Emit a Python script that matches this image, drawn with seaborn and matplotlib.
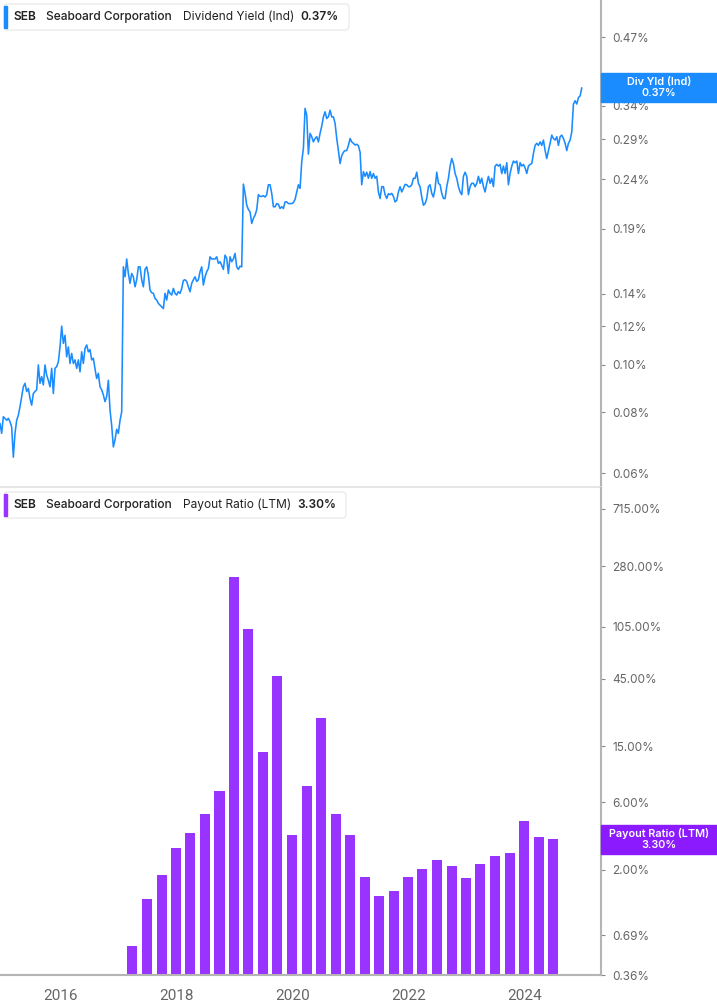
import pandas as pd
import seaborn as sns
import matplotlib.pyplot as plt
from matplotlib.patches import FancyBboxPatch, Rectangle
from matplotlib.ticker import NullLocator


# dividend yield (ind), in % at ~10 day steps
div_yield = [
    0.0759, 0.0724, 0.0783, 0.0777, 0.0770, 0.0777, 0.0765, 0.0746, 0.0647, 0.0724,
    0.0770, 0.0789, 0.0821, 0.0861, 0.0902, 0.0917, 0.0882, 0.0895, 0.0854, 0.0827,
    0.0874, 0.0882, 0.0889, 0.1000, 0.0917, 0.0946, 0.0910, 0.1000, 0.0953, 0.0930,
    0.0902, 0.0984, 0.0874, 0.0984, 0.0992, 0.1015, 0.1089, 0.1201, 0.1107, 0.1150,
    0.1039, 0.1089, 0.1007, 0.1056, 0.1007, 0.1024, 0.0984, 0.1024, 0.0968, 0.1064,
    0.1007, 0.1081, 0.1099, 0.1064, 0.1075, 0.1024, 0.1032, 0.0981, 0.0938, 0.0961,
    0.0902, 0.0889, 0.0868, 0.0841, 0.0861, 0.0930, 0.0808, 0.0751, 0.0679, 0.0702,
    0.0738, 0.0724, 0.0770, 0.0801, 0.1589, 0.1516, 0.1649, 0.1540, 0.1470, 0.1540,
    0.1516, 0.1446, 0.1495, 0.1589, 0.1589, 0.1495, 0.1446, 0.1570, 0.1589, 0.1528,
    0.1424, 0.1406, 0.1402, 0.1369, 0.1358, 0.1337, 0.1326, 0.1316, 0.1305, 0.1402,
    0.1358, 0.1424, 0.1402, 0.1391, 0.1435, 0.1402, 0.1391, 0.1413, 0.1402, 0.1435,
    0.1490, 0.1495, 0.1483, 0.1446, 0.1413, 0.1470, 0.1495, 0.1516, 0.1483, 0.1495,
    0.1553, 0.1589, 0.1458, 0.1516, 0.1553, 0.1576, 0.1666, 0.1649, 0.1649, 0.1649,
    0.1666, 0.1615, 0.1628, 0.1600, 0.1570, 0.1679, 0.1654, 0.1540, 0.1666, 0.1628,
    0.1649, 0.1693, 0.1589, 0.1570, 0.1594, 0.1589, 0.2348, 0.2248, 0.2126, 0.2083,
    0.2059, 0.1950, 0.1997, 0.2029, 0.2080, 0.2234, 0.2216, 0.2216, 0.2223, 0.2209,
    0.2234, 0.2341, 0.2341, 0.2248, 0.2110, 0.2110, 0.2142, 0.2135, 0.2093, 0.2110,
    0.2093, 0.2159, 0.2159, 0.2142, 0.2142, 0.2142, 0.2152, 0.2185, 0.2263, 0.2341,
    0.2301, 0.2609, 0.2779, 0.3357, 0.3251, 0.2705, 0.2983, 0.2937, 0.2866, 0.2912,
    0.2937, 0.2866, 0.2983, 0.3087, 0.3225, 0.3303, 0.3200, 0.3227, 0.3329, 0.3225,
    0.3225, 0.3129, 0.2912, 0.2751, 0.2588, 0.2685, 0.2730, 0.2751, 0.2751, 0.2819,
    0.2912, 0.2866, 0.2847, 0.2824, 0.2834, 0.2815, 0.2730, 0.2341, 0.2490, 0.2436,
    0.2484, 0.2414, 0.2490, 0.2413, 0.2468, 0.2414, 0.2436, 0.2263, 0.2194, 0.2320,
    0.2320, 0.2234, 0.2194, 0.2245, 0.2234, 0.2248, 0.2216, 0.2159, 0.2175, 0.2263,
    0.2320, 0.2263, 0.2301, 0.2345, 0.2341, 0.2320, 0.2320, 0.2341, 0.2413, 0.2413,
    0.2484, 0.2357, 0.2320, 0.2209, 0.2126, 0.2142, 0.2194, 0.2320, 0.2341, 0.2248,
    0.2209, 0.2301, 0.2484, 0.2357, 0.2341, 0.2248, 0.2194, 0.2194, 0.2320, 0.2413,
    0.2557, 0.2650, 0.2588, 0.2468, 0.2414, 0.2320, 0.2263, 0.2234, 0.2436, 0.2484,
    0.2436, 0.2234, 0.2320, 0.2358, 0.2357, 0.2320, 0.2357, 0.2436, 0.2357, 0.2414,
    0.2320, 0.2263, 0.2357, 0.2436, 0.2357, 0.2413, 0.2320, 0.2557, 0.2577, 0.2557,
    0.2577, 0.2468, 0.2557, 0.2469, 0.2598, 0.2341, 0.2469, 0.2557, 0.2618, 0.2598,
    0.2618, 0.2468, 0.2598, 0.2557, 0.2577, 0.2536, 0.2469, 0.2557, 0.2577, 0.2588,
    0.2714, 0.2819, 0.2847, 0.2819, 0.2866, 0.2819, 0.2890, 0.2751, 0.2650, 0.2751,
    0.2847, 0.2959, 0.2912, 0.2890, 0.2937, 0.2819, 0.2937, 0.2959, 0.2912, 0.2847,
    0.2751, 0.2847, 0.2890, 0.3006, 0.3427, 0.3480, 0.3427, 0.3533, 0.3560, 0.3700,
]
yield_start, yield_end = "2014-12-18", "2024-12-28"

# payout ratio (LTM), in %, one bar per quarter 2017Q1 .. 2024Q2
payout_ratio = [
    0.58, 1.25, 1.85, 2.85, 3.62, 4.94, 7.27, 234.7, 100.5, 13.6,
    47.1, 3.50, 7.88, 23.9, 4.94, 3.54, 1.79, 1.31, 1.42, 1.77,
    2.02, 2.36, 2.11, 1.74, 2.18, 2.49, 2.61, 4.45, 3.43, 3.30,
]
first_quarter, last_quarter = "2017Q1", "2024Q2"

# the 0.37% tick sits under the value tag, so it is left out
yield_ticks = [0.06, 0.08, 0.10, 0.12, 0.14, 0.19, 0.24, 0.29, 0.34, 0.47]
payout_ticks = [0.36, 0.69, 2.0, 6.0, 15.0, 45.0, 105.0, 280.0, 715.0]
years = [2016, 2018, 2020, 2022, 2024]

BLUE = "#1a8cff"
PURPLE = "#9933ff"
PURPLE_DARK = "#8c1aff"
GREY = "#666666"
AXIS = "#b5b5b5"

sns.set_theme(style="white")
plt.rcParams["font.family"] = ["Inter", "DejaVu Sans"]

W, H = 717, 1005
fig = plt.figure(figsize=(W / 100, H / 100), dpi=100)
ax1 = fig.add_axes([0, 1 - 487 / H, 601 / W, 487 / H])
ax2 = fig.add_axes([0, 30 / H, 601 / W, 487 / H])

dates = pd.date_range(yield_start, yield_end, periods=len(div_yield))
quarters = pd.period_range(first_quarter, last_quarter, freq="Q").to_timestamp(how="end").normalize()

sns.lineplot(x=dates, y=div_yield, ax=ax1, color=BLUE, linewidth=1.15)
ax2.bar(quarters, payout_ratio, width=63, color=PURPLE, linewidth=0)

xlim = (pd.Timestamp("2014-12-18"), pd.Timestamp("2025-04-28"))
for ax in (ax1, ax2):
    ax.set_xlim(xlim)
    ax.set_yscale("log")
    ax.yaxis.tick_right()
    ax.yaxis.set_minor_locator(NullLocator())
    ax.spines["top"].set_visible(False)
    ax.spines["left"].set_visible(False)
    ax.spines["right"].set_color(AXIS)
    ax.spines["right"].set_linewidth(1.5)
    ax.set_xlabel("")
    ax.set_ylabel("")
    ax.tick_params(axis="y", length=3, width=0.8, color="#888888", pad=5,
                   labelsize=8.5, labelcolor=GREY)

ax1.set_ylim(0.0562, 0.56)
ax1.set_yticks(yield_ticks)
ax1.set_yticklabels([f"{t:.2f}%" for t in yield_ticks])
ax1.set_xticks([])
ax1.spines["bottom"].set_color("#e2e2e2")
ax1.spines["bottom"].set_linewidth(1.2)

ax2.set_ylim(0.36, 1006)
ax2.set_yticks(payout_ticks)
ax2.set_yticklabels([f"{t:.2f}%" for t in payout_ticks])
ax2.spines["bottom"].set_color(AXIS)
ax2.spines["bottom"].set_linewidth(1.5)
ax2.set_xticks([pd.Timestamp(f"{y}-01-01") for y in years])
ax2.set_xticklabels([str(y) for y in years], fontfamily="Roboto", fontsize=11, color=GREY)
ax2.tick_params(axis="x", length=4, width=0.8, color="#888888", pad=6)


def legend_box(y_top, color, metric, value, width):
    # rounded header box with the coloured marker on the left
    top = 1 - y_top / H
    fig.patches.append(FancyBboxPatch((4 / W, top - 26 / H), (width - 4) / W, 26 / H,
                                      boxstyle="round,pad=0,rounding_size=0.004",
                                      transform=fig.transFigure, fc="white",
                                      ec="#e6e6e6", lw=0.8, zorder=4))
    fig.patches.append(Rectangle((3.5 / W, top - 24 / H), 3 / W, 22 / H,
                                 transform=fig.transFigure, color=color, zorder=5))
    yc = top - 13 / H
    kw = dict(fontsize=8.6, color="#222222", va="center", zorder=6)
    fig.text(13 / W, yc, "SEB", fontweight="semibold", **kw)
    fig.text(46 / W, yc, "Seaboard Corporation", fontweight="medium", **kw)
    fig.text(183 / W, yc, metric, **kw)
    fig.text(value[1] / W, yc, value[0], fontweight="semibold", **kw)


legend_box(4, BLUE, "Dividend Yield (Ind)", (f"{div_yield[-1]:.2f}%", 300), 349)
legend_box(492, PURPLE, "Payout Ratio (LTM)", (f"{payout_ratio[-1]:.2f}%", 297), 346)


def value_tag(ax, value, color, name):
    # last-value tag on the right axis, centred on the value
    fig.canvas.draw()
    y_px = ax.transData.transform((ax.get_xlim()[0], value))[1]
    yc = y_px / (fig.dpi * fig.get_figheight())
    fig.patches.append(Rectangle((601 / W, yc - 14.5 / H), 116 / W, 29 / H,
                                 transform=fig.transFigure, color=color, zorder=5))
    fig.text(659 / W, yc, f"{name}\n{value:.2f}%", fontsize=7.8, fontweight="semibold",
             color="white", ha="center", va="center", linespacing=1.1, zorder=6)


value_tag(ax1, div_yield[-1], BLUE, "Div Yld (Ind)")
value_tag(ax2, payout_ratio[-1], PURPLE_DARK, "Payout Ratio (LTM)")

fig.savefig("out.png", dpi=100)
